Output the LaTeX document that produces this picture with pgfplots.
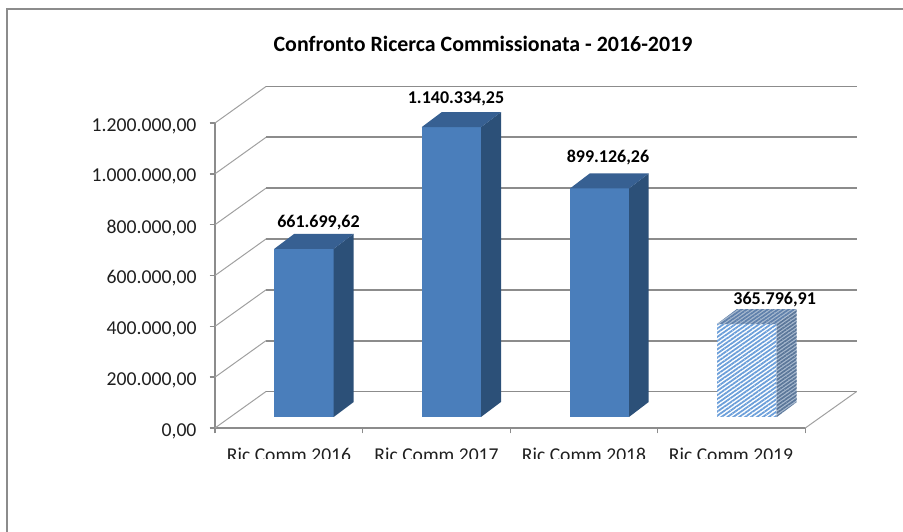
\documentclass[border=0pt]{standalone}
\usepackage{fontspec}
\setmainfont{Carlito}
\usepackage{pgfplots}
\pgfplotsset{compat=1.18}
\usetikzlibrary{patterns.meta}
\definecolor{axgray}{HTML}{8C8C8C}
\definecolor{sidegray}{HTML}{A0A0A0}
\definecolor{front}{HTML}{4A7EBB}
\definecolor{topc}{HTML}{376092}
\definecolor{sidec}{HTML}{2C5078}
\definecolor{hatchf}{HTML}{6C9FDA}
\definecolor{hatchs}{HTML}{5A7699}
\definecolor{hatcht}{HTML}{5F80AB}
\definecolor{hatchb}{HTML}{A9BACF}
\begin{document}
\begin{tikzpicture}[x=1pt,y=1pt]
\useasboundingbox (0,0) rectangle (903,532);
\begin{axis}[
  at={(215pt,104pt)}, anchor=south west,
  scale only axis, width=590.3pt, height=305pt,
  xmin=215, xmax=805.3, ymin=0, ymax=1200000,
  clip=false,
  scaled y ticks=false,
  axis x line*=bottom, axis y line*=left,
  axis line style={axgray,line width=1.8pt,-},
  ytick={0,200000,400000,600000,800000,1000000,1200000},
  minor ytick={0,200000,400000,600000,800000,1000000,1200000},
  yticklabels={{0,00},{200.000,00},{400.000,00},{600.000,00},{800.000,00},{1.000.000,00},{1.200.000,00}},
  xtick={289,436.5,584,731},
  xticklabels={Ric Comm 2016,Ric Comm 2017,Ric Comm 2018,Ric Comm 2019},
  minor xtick={215,362.5,510.5,657.5,805.3},
  major tick length=0pt,
  minor tick length=5.5pt,
  tick align=outside,
  tick style={axgray,line width=1.6pt},
  y tick label style={font=\fontsize{19.7}{19.7}\selectfont,text=black!88,anchor=east,xshift=-15pt,yshift=-3pt},
  x tick label style={font=\fontsize{19.6}{19.6}\selectfont,text=black!88,anchor=base,yshift=-34pt},
]
% wall grid lines
\addplot[sidegray,line width=1pt] coordinates {(215,0)(266,143607)};
\addplot[axgray,line width=1.7pt] coordinates {(266,143607)(856.7,143607)};
\addplot[sidegray,line width=1pt] coordinates {(805.3,0)(856.7,143607)};
\addplot[sidegray,line width=1pt] coordinates {(215,200000)(266,343607)};
\addplot[axgray,line width=1.7pt] coordinates {(266,343607)(856.7,343607)};
\addplot[sidegray,line width=1pt] coordinates {(215,400000)(266,543607)};
\addplot[axgray,line width=1.7pt] coordinates {(266,543607)(856.7,543607)};
\addplot[sidegray,line width=1pt] coordinates {(215,600000)(266,743607)};
\addplot[axgray,line width=1.7pt] coordinates {(266,743607)(856.7,743607)};
\addplot[sidegray,line width=1pt] coordinates {(215,800000)(266,943607)};
\addplot[axgray,line width=1.7pt] coordinates {(266,943607)(856.7,943607)};
\addplot[sidegray,line width=1pt] coordinates {(215,1000000)(266,1143607)};
\addplot[axgray,line width=1.7pt] coordinates {(266,1143607)(856.7,1143607)};
\addplot[sidegray,line width=1pt] coordinates {(215,1200000)(266,1343607)};
\addplot[axgray,line width=1.7pt] coordinates {(266,1343607)(856.7,1343607)};
% bar 2016
\addplot[fill=front,draw=none,yshift=11pt] coordinates {(274.3,0)(333.7,0)(333.7,661699.62)(274.3,661699.62)} --cycle;
\addplot[fill=sidec,draw=none] coordinates {(333.7,43279)(353.7,102295)(353.7,763995)(333.7,704979)} --cycle;
\addplot[fill=topc,draw=none] coordinates {(274.3,704979)(333.7,704979)(353.7,763995)(294.3,763995)} --cycle;
% bar 2017
\addplot[fill=front,draw=none,yshift=11pt] coordinates {(421.7,0)(481,0)(481,1140334.25)(421.7,1140334.25)} --cycle;
\addplot[fill=sidec,draw=none] coordinates {(481,43279)(501,102295)(501,1242629)(481,1183613)} --cycle;
\addplot[fill=topc,draw=none] coordinates {(421.7,1183613)(481,1183613)(501,1242629)(441.7,1242629)} --cycle;
% bar 2018
\addplot[fill=front,draw=none,yshift=11pt] coordinates {(570,0)(629,0)(629,899126.26)(570,899126.26)} --cycle;
\addplot[fill=sidec,draw=none] coordinates {(629,43279)(648.7,102295)(648.7,1001421)(629,942405)} --cycle;
\addplot[fill=topc,draw=none] coordinates {(570,942405)(629,942405)(648.7,1001421)(589.7,1001421)} --cycle;
% bar 2019 (hatched)
\addplot[fill=white,draw=none,yshift=11pt] coordinates {(717,0)(776.7,0)(776.7,365796.91)(717,365796.91)} --cycle;
\addplot[draw=none,pattern={Lines[angle=35,distance=3.4pt,line width=1.8pt]},pattern color=hatchf,yshift=11pt] coordinates {(717,0)(776.7,0)(776.7,365796.91)(717,365796.91)} --cycle;
\addplot[fill=hatchb,draw=none] coordinates {(776.7,43279)(796.7,102295)(796.7,468092)(776.7,409076)} --cycle;
\addplot[draw=none,pattern={Lines[angle=35,distance=3pt,line width=1.7pt]},pattern color=hatchs] coordinates {(776.7,43279)(796.7,102295)(796.7,468092)(776.7,409076)} --cycle;
\addplot[fill=hatchb,draw=none] coordinates {(717,409076)(776.7,409076)(796.7,468092)(737,468092)} --cycle;
\addplot[draw=none,pattern={Lines[angle=35,distance=3pt,line width=1.7pt]},pattern color=hatcht] coordinates {(717,409076)(776.7,409076)(796.7,468092)(737,468092)} --cycle;
% data labels
\node[font=\fontsize{18}{18}\selectfont\bfseries,yshift=36.8pt] at (axis cs:318.5,661699.62) {661.699,62};
\node[font=\fontsize{18}{18}\selectfont\bfseries,yshift=39.2pt] at (axis cs:456,1140334.25) {1.140.334,25};
\node[font=\fontsize{18}{18}\selectfont\bfseries,yshift=41.5pt] at (axis cs:608,899126.26) {899.126,26};
\node[font=\fontsize{18}{18}\selectfont\bfseries,yshift=35pt] at (axis cs:774.7,365796.91) {365.796,91};
\end{axis}
% crop of the category labels, as in the reference
\fill[white] (10,0) rectangle (903,73);
% chart frame
\draw[axgray,line width=2.2pt] (7,0) -- (7,523) -- (903,523);
% title
\node[font=\fontsize{21.9}{21.9}\selectfont\bfseries,anchor=center] at (483,488) {Confronto Ricerca Commissionata - 2016-2019};
\end{tikzpicture}
\end{document}
